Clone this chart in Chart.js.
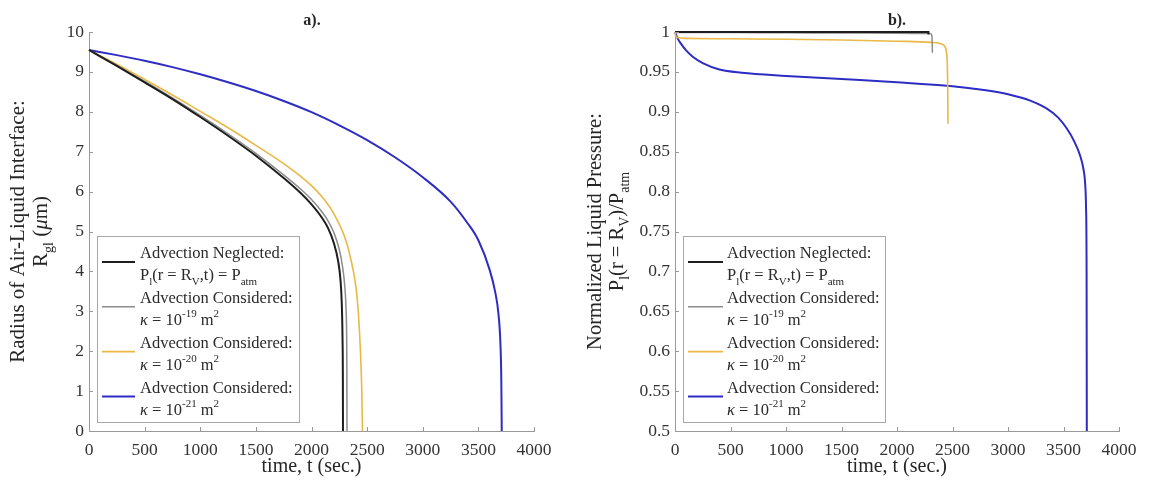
<!DOCTYPE html>
<html><head><meta charset="utf-8">
<script src="https://cdn.jsdelivr.net/npm/chart.js@4/dist/chart.umd.min.js"></script>
<style>
html,body{margin:0;padding:0;background:#fff;overflow:hidden}
#wrap{position:relative;width:1150px;height:484px;background:#fff}
canvas{position:absolute;top:0}
</style></head><body>
<div id="wrap">
<canvas id="ca" width="575" height="484" style="left:0"></canvas>
<canvas id="cb" width="575" height="484" style="left:575px"></canvas>
</div>
<script>
// ---------- tick labels ----------
const xTickLabels = ['0','500','1000','1500','2000','2500','3000','3500','4000'];
const yTickLabelsA = ['0','1','2','3','4','5','6','7','8','9','10'];
const yTickLabelsB = ['0.5','0.55','0.6','0.65','0.7','0.75','0.8','0.85','0.9','0.95','1'];

// ---------- a) radius of air-liquid interface (um) ----------
const tA_black  = [0,250,500,750,1000,1250,1500,1750,1900,2000,2100,2150,2200,2240,2260,2272,2279,2282,2283];
const rA_black  = [9.55,9.15,8.74,8.32,7.87,7.40,6.90,6.34,5.97,5.68,5.32,5.08,4.72,4.25,3.8,3.2,2.3,1.3,0];
const tA_gray   = [0,250,500,750,1000,1250,1500,1750,1900,2000,2100,2150,2200,2250,2280,2300,2310,2316,2318,2319];
const rA_gray   = [9.55,9.16,8.76,8.35,7.91,7.45,6.96,6.42,6.07,5.80,5.47,5.26,4.98,4.55,4.1,3.6,3.1,2.4,1.5,0];
const tA_yellow = [0,250,500,750,1000,1250,1500,1750,2000,2100,2200,2300,2350,2400,2420,2440,2452,2458];
const rA_yellow = [9.55,9.19,8.81,8.42,8.01,7.6,7.16,6.7,6.15,5.85,5.45,4.85,4.35,3.6,3.0,2.0,1.0,0];
const tA_blue   = [0,250,500,750,1000,1250,1500,1750,2000,2250,2500,2750,3000,3250,3400,3500,3600,3650,3680,3698,3706,3710];
const rA_blue   = [9.55,9.42,9.28,9.12,8.94,8.74,8.52,8.27,7.99,7.66,7.29,6.86,6.36,5.75,5.22,4.78,4.05,3.5,2.95,2.2,1.3,0];

// ---------- b) normalized liquid pressure ----------
const tB_black  = [0,2283,2283];
const pB_black  = [1,1,0.997];
const tB_gray   = [0,10,500,1000,1500,2000,2300,2315,2319];
const pB_gray   = [1,0.9995,0.9993,0.999,0.9988,0.9985,0.998,0.995,0.974];
const tB_yellow = [0,5,20,100,500,1000,1500,2000,2300,2400,2430,2445,2453,2457,2459];
const pB_yellow = [1.0,0.996,0.993,0.992,0.9915,0.991,0.990,0.9885,0.987,0.985,0.982,0.975,0.96,0.93,0.885];
const tB_blue   = [0,20,50,100,160,250,400,600,1000,1500,2000,2500,2800,3000,3200,3350,3450,3530,3600,3650,3680,3695,3703,3708,3710];
const pB_blue   = [1.0,0.993,0.986,0.977,0.969,0.961,0.953,0.949,0.945,0.941,0.937,0.932,0.927,0.922,0.914,0.904,0.893,0.879,0.862,0.845,0.828,0.81,0.78,0.7,0.5];

const COLORS = {black:'#1e1e1e', gray:'#8c8c8c', yellow:'#e9b845', blue:'#2d2dc4'};
const WIDTHS = {black:2, gray:1.5, yellow:1.6, blue:2};

const SERIF = '"Liberation Serif", "Times New Roman", serif';

function pts(t, v){ return t.map((x,i)=>({x:x, y:v[i]})); }

function fontFor(type, size){
  const small = (type==='sub' || type==='sup');
  const s = small ? Math.round(size*0.66) : size;
  const st = type==='it' ? 'italic ' : '';
  return st + s + 'px ' + SERIF;
}
function richWidth(ctx, segs, size){
  let w = 0;
  segs.forEach(s=>{ ctx.font = fontFor(s[1]||'', size); w += ctx.measureText(s[0]).width; });
  return w;
}
function drawRich(ctx, segs, x, y, size, align){
  if (align==='center') x -= richWidth(ctx, segs, size)/2;
  ctx.textBaseline = 'middle'; ctx.textAlign = 'left';
  segs.forEach(s=>{
    const type = s[1]||'';
    ctx.font = fontFor(type, size);
    const dy = type==='sub' ? size*0.38 : (type==='sup' ? -size*0.38 : 0);
    ctx.fillText(s[0], x, y+dy);
    x += ctx.measureText(s[0]).width;
  });
}

const legendEntries = [
  {c:'black', l1:[['Advection Neglected:']], l2:[['P'],['l','sub'],['(r = R'],['V','sub'],[',t) = P'],['atm','sub']]},
  {c:'gray',  l1:[['Advection Considered:']], l2:[['κ','it'],[' = 10'],['-19','sup'],[' m'],['2','sup']]},
  {c:'yellow',l1:[['Advection Considered:']], l2:[['κ','it'],[' = 10'],['-20','sup'],[' m'],['2','sup']]},
  {c:'blue',  l1:[['Advection Considered:']], l2:[['κ','it'],[' = 10'],['-21','sup'],[' m'],['2','sup']]}
];

const deco = {
  id:'deco',
  afterDraw(chart, args, o){
    const ctx = chart.ctx, a = chart.chartArea;
    const xs = chart.scales.x, ys = chart.scales.y;
    ctx.save();
    // inward ticks
    ctx.strokeStyle = '#9a9a9a'; ctx.lineWidth = 1;
    xs.ticks.forEach(t=>{ const p = Math.round(xs.getPixelForValue(t.value))+0.5; ctx.beginPath(); ctx.moveTo(p, a.bottom); ctx.lineTo(p, a.bottom-4); ctx.stroke(); });
    ys.ticks.forEach(t=>{ const p = Math.round(ys.getPixelForValue(t.value))+0.5; ctx.beginPath(); ctx.moveTo(a.left, p); ctx.lineTo(a.left+4, p); ctx.stroke(); });
    ctx.fillStyle = '#262626';
    // panel title
    ctx.font = 'bold 16px ' + SERIF; ctx.textAlign='center'; ctx.textBaseline='middle';
    ctx.fillText(o.title, o.titleX, 21);
    // x title
    drawRich(ctx, [['time, t (sec.)']], (a.left+a.right)/2, 467, 20, 'center');
    // y title (rotated)
    const cy = (a.top+a.bottom)/2;
    o.yTitle.forEach((line, i)=>{
      ctx.save(); ctx.translate(o.yTitleX[i], cy); ctx.rotate(-Math.PI/2);
      drawRich(ctx, line, 0, 0, o.yTitleSize, 'center');
      ctx.restore();
    });
    // legend
    const L = o.legend;
    ctx.fillStyle = '#fff'; ctx.fillRect(L.x0, L.y0, L.x1-L.x0, L.y1-L.y0);
    ctx.strokeStyle = '#a8a8a8'; ctx.lineWidth = 1;
    ctx.strokeRect(L.x0+0.5, L.y0+0.5, L.x1-L.x0, L.y1-L.y0);
    legendEntries.forEach((e, i)=>{
      const y1 = 254 + 44.8*i;
      ctx.strokeStyle = COLORS[e.c]; ctx.lineWidth = WIDTHS[e.c];
      ctx.beginPath(); ctx.moveTo(L.s0, y1+8); ctx.lineTo(L.s1, y1+8); ctx.stroke();
      ctx.fillStyle = '#2a2a2a';
      drawRich(ctx, e.l1, L.tx, y1, 16.5, 'left');
      drawRich(ctx, e.l2, L.tx, y1+22, 16.5, 'left');
    });
    ctx.restore();
  }
};

function makeChart(id, sets, yMin, yMax, yStep, yLabels, yW, padRight, decoOpts){
  const order = ['blue','yellow','gray','black'];
  const datasets = order.map((k, i)=>({
    label:k, data: pts(sets[k][0], sets[k][1]),
    borderColor: COLORS[k], borderWidth: WIDTHS[k], pointRadius:0, showLine:true,
    cubicInterpolationMode:'monotone', fill:false, clip:false, order: 4-i
  }));
  return new Chart(document.getElementById(id), {
    type:'scatter',
    data:{datasets},
    options:{
      responsive:false, animation:false, devicePixelRatio:1,
      layout:{padding:{left:0, right:padRight, top:32, bottom:0}},
      plugins:{legend:{display:false}, tooltip:{enabled:false}, deco: decoOpts},
      scales:{
        x:{type:'linear', min:0, max:4000,
           ticks:{stepSize:500, autoSkip:false, maxRotation:0, padding:9, color:'#333',
                  font:{family:SERIF, size:17.5}, callback:(v,i)=>xTickLabels[i]},
           grid:{display:true, drawOnChartArea:false, drawTicks:false},
           border:{display:true, color:'#9a9a9a', width:1},
           afterFit:(s)=>{ s.height = 53; }},
        y:{type:'linear', min:yMin, max:yMax,
           ticks:{stepSize:yStep, autoSkip:false, padding:5, color:'#333',
                  font:{family:SERIF, size:17.5}, callback:(v,i)=>yLabels[i]},
           grid:{display:true, drawOnChartArea:false, drawTicks:false},
           border:{display:true, color:'#9a9a9a', width:1},
           afterFit:(s)=>{ s.width = yW; }}
      }
    },
    plugins:[deco]
  });
}

makeChart('ca', {
  black:[tA_black, rA_black], gray:[tA_gray, rA_gray], yellow:[tA_yellow, rA_yellow], blue:[tA_blue, rA_blue]
}, 0, 10, 1, yTickLabelsA, 89, 41, {
  title:'a).', titleX:312, yTitleSize:21,
  yTitle:[ [['Radius of Air-Liquid Interface:']], [['R'],['gl','sub'],[' ('],['μ','it'],['m)']] ],
  yTitleX:[18, 41],
  legend:{x0:97, y0:236, x1:299, y1:422, s0:102, s1:135, tx:140}
});

makeChart('cb', {
  black:[tB_black, pB_black], gray:[tB_gray, pB_gray], yellow:[tB_yellow, pB_yellow], blue:[tB_blue, pB_blue]
}, 0.5, 1, 0.05, yTickLabelsB, 100, 31, {
  title:'b).', titleX:322, yTitleSize:20.5,
  yTitle:[ [['Normalized Liquid Pressure:']], [['P'],['l','sub'],['(r = R'],['V','sub'],[')/P'],['atm','sub']] ],
  yTitleX:[21, 43],
  legend:{x0:108, y0:236, x1:310, y1:422, s0:113, s1:148, tx:152}
});
</script>
</body></html>
